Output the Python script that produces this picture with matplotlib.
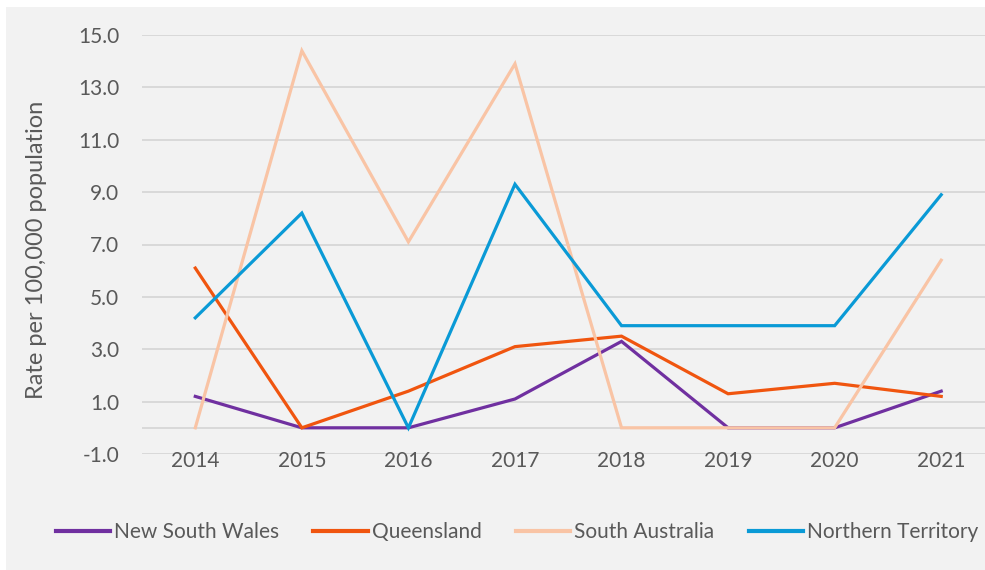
"""Line chart: rate per 100,000 population by state, 2014-2021."""

import matplotlib.pyplot as plt
from matplotlib.patches import Rectangle

years = ['2014', '2015', '2016', '2017', '2018', '2019', '2020', '2021']
nsw = [1.2, 0.0, 0.0, 1.1, 3.3, 0.0, 0.0, 1.4]
qld = [6.1, 0.0, 1.4, 3.1, 3.5, 1.3, 1.7, 1.2]
sa = [0.0, 14.4, 7.1, 13.9, 0.0, 0.0, 0.0, 6.4]
nt = [4.2, 8.2, 0.0, 9.3, 3.9, 3.9, 3.9, 8.9]
y_ticks = [-1.0, 1.0, 3.0, 5.0, 7.0, 9.0, 11.0, 13.0, 15.0]

series = [
    ('New South Wales', nsw, '#7030A0'),
    ('Queensland', qld, '#F0550F'),
    ('South Australia', sa, '#F9C4A5'),
    ('Northern Territory', nt, '#0A9AD6'),
]

plt.rcParams['font.family'] = ['Lato', 'DejaVu Sans']
text_color = '#595959'
grid_color = '#D9D9D9'

fig = plt.figure(figsize=(9.85, 5.70), dpi=100, facecolor='#F2F2F2')
# thin white strips at the top and left edge
fig.patches.append(Rectangle((0, 0), 6 / 985, 1, transform=fig.transFigure,
                             facecolor='white', edgecolor='none'))
fig.patches.append(Rectangle((0, (570 - 7) / 570), 1, 1, transform=fig.transFigure,
                             facecolor='white', edgecolor='none'))

ax = fig.add_axes([142 / 985, (570 - 454) / 570, 852.5 / 985, 419 / 570])
ax.set_facecolor('none')

x = list(range(len(years)))
for label, values, color in series:
    ax.plot(x, values, color=color, linewidth=2.3, label=label,
            solid_joinstyle='miter', zorder=3)

ax.set_xlim(-0.5, len(years) - 0.5)
ax.set_ylim(-1, 15)

ax.set_yticks(y_ticks)
ax.set_yticklabels([f'{v:.1f}' for v in y_ticks])
for v in y_ticks:
    ax.axhline(v, color=grid_color, linewidth=1.4, zorder=1)
ax.axhline(0, color=grid_color, linewidth=1.4, zorder=1)

ax.set_xticks(x)
ax.set_xticklabels(years)

for s in ax.spines.values():
    s.set_visible(False)
ax.tick_params(axis='y', length=0, pad=16.5, labelsize=15, labelcolor=text_color)
ax.tick_params(axis='x', length=0, pad=-2, labelsize=15, labelcolor=text_color)

fig.text(37 / 985, (570 - 250) / 570, 'Rate per 100,000 population',
         rotation=90, ha='center', va='center', fontsize=17, color=text_color)

leg = fig.legend(loc='center', bbox_to_anchor=(517 / 985, (570 - 532) / 570),
                 ncol=4, frameon=False, fontsize=15, handlelength=2.6,
                 handletextpad=0.2, columnspacing=1.65)
for t in leg.get_texts():
    t.set_color(text_color)
for h in leg.get_lines():
    h.set_linewidth(3)

fig.savefig('out.png', dpi=100, facecolor=fig.get_facecolor())
